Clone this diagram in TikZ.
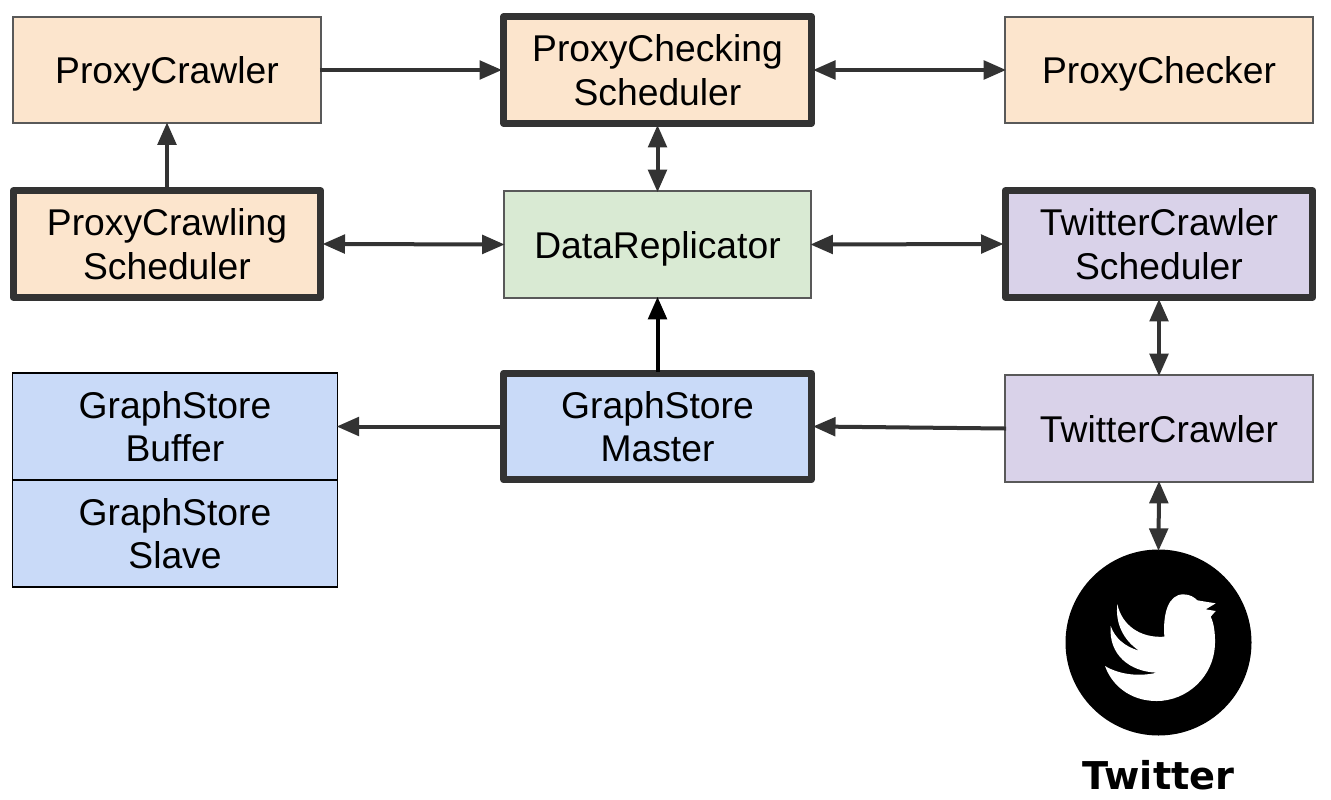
\documentclass[tikz,border=0pt]{standalone}
\usepackage{fontspec}
\setmainfont{Liberation Sans}
\newfontfamily\twfont{DejaVu Sans}
\usetikzlibrary{arrows.meta}
\definecolor{dk}{HTML}{333333}
\definecolor{pxy}{HTML}{FCE5CD}
\definecolor{rep}{HTML}{D9EAD3}
\definecolor{twc}{HTML}{D9D2E9}
\definecolor{gs}{HTML}{C9DAF8}

\begin{document}
\begin{tikzpicture}[>={Triangle[length=4.5mm,width=3.7mm]},font=\fontsize{21.2}{24.8}\selectfont]
\tikzstyle{c}=[draw=black!65,line width=0.035cm,minimum height=2.13cm,minimum width=6.15cm,align=center,inner sep=0pt]
\tikzstyle{one}=[c,text height=0.56cm,text depth=0pt]
\tikzstyle{sched}=[c,draw=dk,line width=0.14cm,line join=round]
\tikzstyle{gsbox}=[c,draw=black,minimum width=6.5cm]
\tikzstyle{a}=[draw=dk,line width=0.08cm,shorten >=-1pt,shorten <=-1pt]
\useasboundingbox (0,0) rectangle (26.62,-16);
\node[one,fill=pxy] (pc) at (3.34,-1.40) {ProxyCrawler};
\node[sched,fill=pxy] (pcs) at (13.15,-1.40) {ProxyChecking\\Scheduler};
\node[one,fill=pxy] (pk) at (23.18,-1.40) {ProxyChecker};
\node[sched,fill=pxy] (pws) at (3.34,-4.88) {ProxyCrawling\\Scheduler};
\node[one,fill=rep] (dr) at (13.15,-4.89) {DataReplicator};
\node[sched,fill=twc] (tcs) at (23.18,-4.88) {TwitterCrawler\\Scheduler};
\node[gsbox,fill=gs] (gb) at (3.50,-8.53) {GraphStore\\Buffer};
\node[gsbox,fill=gs] (gl) at (3.50,-10.67) {GraphStore\\Slave};
\node[sched,fill=gs] (gm) at (13.15,-8.53) {GraphStore\\Master};
\node[one,fill=twc] (tc) at (23.18,-8.57) {TwitterCrawler};
\node[circle,fill=black,minimum size=3.72cm,inner sep=0pt] (tw) at (23.17,-12.85) {};
\node[font=\twfont\bfseries\fontsize{21.8}{24}\selectfont] (twl) at (23.17,-15.50) {Twitter};
% bird
\begin{scope}[shift={(20.8,-10.6)},x=0.00667cm,y=-0.00667cm]
\fill[white] (430,193) .. controls (450,193) and (463,202) .. (472,211) -- (527,220) -- (497,238) -- (527,243) -- (512,260) .. controls (522,280) and (525,310) .. (525,335) .. controls (525,440) and (440,513) .. (350,513) .. controls (270,513) and (215,465) .. (195,408) .. controls (240,435) and (300,440) .. (350,428) .. controls (270,425) and (205,375) .. (212,288) .. controls (225,325) and (255,350) .. (297,362) .. controls (250,330) and (225,280) .. (232,222) .. controls (245,285) and (300,325) .. (373,320) .. controls (368,250) and (385,193) .. (430,193) -- cycle;
\end{scope}
\draw[a,->] (pc.east) -- (pcs.west);
\draw[a,<->] (pcs.east) -- (pk.west);
\draw[a,->] (pws.north) -- (pc.south);
\draw[a,<->] (pcs.south) -- (dr.north);
\draw[a,<->] (pws.east) -- (dr.west);
\draw[a,<->] (dr.east) -- (tcs.west);
\draw[a,<->] (tcs.south) -- (tc.north);
\draw[a,->] (tc.west) -- (gm.east);
\draw[a,->] (gm.west) -- (gb.east);
\draw[a,->,draw=black] (gm.north) -- (dr.south);
\draw[a,<->] (tc.south) -- (tw.north);
\end{tikzpicture}
\end{document}
